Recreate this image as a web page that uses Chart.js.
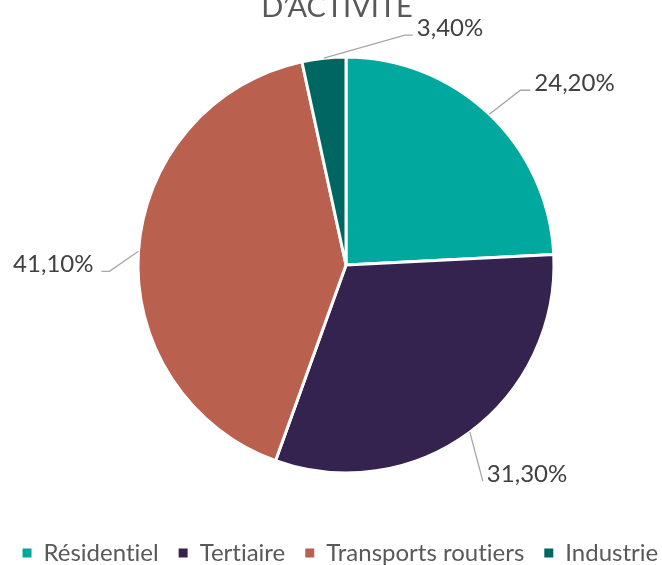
<!DOCTYPE html>
<html lang="fr">
<head>
<meta charset="utf-8">
<title>Répartition par secteur d'activité</title>
<script src="https://cdn.jsdelivr.net/npm/chart.js@4.4.1/dist/chart.umd.min.js"></script>
<style>
    html, body { margin: 0; padding: 0; background: #fff; overflow: hidden; }
    /* canvas is a bit wider than the page so the legend stays on one row */
    #wrap { position: absolute; left: -40px; top: 0; width: 742px; height: 575px; }
</style>
</head>
<body>
<div id="wrap"><canvas id="pieChart"></canvas></div>
<script>
const secteurs = ['Résidentiel', 'Tertiaire', 'Transports routiers', 'Industrie'];
const parts = [24.2, 31.3, 41.1, 3.4];
const titre = 'D’ACTIVITÉ';

const couleurs = ['#00A89E', '#35234F', '#B9604E', '#006661'];

// where each value label sits relative to the slice edge (elbow offset + horizontal tail)
const leaders = [
    { dx: 31, dy: -24, tail: 10 },
    { dx: 13, dy: 49, tail: 0 },
    { dx: -29, dy: 20, tail: -8 },
    { dx: 81, dy: -23, tail: 8 }
];

const FONT = 'Lato, "Noto Sans", sans-serif';
const OFFSET_X = 40;

function formatPct(v) {
    return v.toFixed(2).replace('.', ',') + '%';
}

// no "ti" ligatures, nudge the legend row a little to the left
const tweaks = {
    id: 'tweaks',
    afterLayout(chart) {
        chart.legend.left -= 5;
        chart.legend.right -= 5;
    },
    beforeDraw(chart) {
        if ('textRendering' in chart.ctx) chart.ctx.textRendering = 'optimizeSpeed';
    }
};

const titlePlugin = {
    id: 'topTitle',
    afterDraw(chart) {
        const ctx = chart.ctx;
        ctx.save();
        ctx.font = '29px ' + FONT;
        ctx.fillStyle = '#595959';
        ctx.textAlign = 'center';
        ctx.textBaseline = 'alphabetic';
        ctx.fillText(titre, 337 + OFFSET_X, 17);
        ctx.restore();
    }
};

const labelPlugin = {
    id: 'leaderLabels',
    afterDatasetsDraw(chart) {
        const ctx = chart.ctx;
        const meta = chart.getDatasetMeta(0);
        ctx.save();
        meta.data.forEach((arc, i) => {
            const p = arc.getProps(['x', 'y', 'startAngle', 'endAngle', 'outerRadius'], true);
            const mid = (p.startAngle + p.endAngle) / 2;
            const ex = p.x + Math.cos(mid) * p.outerRadius;
            const ey = p.y + Math.sin(mid) * p.outerRadius;
            const l = leaders[i];
            const bx = ex + l.dx;
            const by = ey + l.dy;
            const tx = bx + l.tail;

            ctx.strokeStyle = '#A6A6A6';
            ctx.lineWidth = 1.3;
            ctx.beginPath();
            ctx.moveTo(ex, ey);
            ctx.lineTo(bx, by);
            ctx.lineTo(tx, by);
            ctx.stroke();

            const leftSide = l.dx < 0;
            ctx.font = '24px ' + FONT;
            ctx.fillStyle = '#404040';
            ctx.textBaseline = 'middle';
            ctx.textAlign = leftSide ? 'right' : 'left';
            ctx.fillText(formatPct(parts[i]), leftSide ? tx - 8 : tx + 4, by - 7);
        });
        ctx.restore();
    }
};

new Chart(document.getElementById('pieChart'), {
    type: 'pie',
    data: {
        labels: secteurs,
        datasets: [{
            data: parts,
            backgroundColor: couleurs,
            borderColor: '#ffffff',
            borderWidth: 3,
            radius: 208
        }]
    },
    options: {
        responsive: true,
        maintainAspectRatio: false,
        animation: false,
        layout: { padding: { left: 30, right: 0, top: 9, bottom: 0 } },
        plugins: {
            tooltip: { enabled: false },
            legend: {
                position: 'bottom',
                labels: {
                    boxWidth: 9,
                    boxHeight: 9,
                    padding: 20,
                    color: '#595959',
                    font: { family: FONT, size: 24 },
                    generateLabels(chart) {
                        return Chart.overrides.pie.plugins.legend.labels.generateLabels(chart)
                            .map(item => Object.assign(item, { lineWidth: 0, strokeStyle: 'rgba(0,0,0,0)' }));
                    }
                }
            }
        }
    },
    plugins: [tweaks, labelPlugin, titlePlugin]
});
</script>
</body>
</html>
